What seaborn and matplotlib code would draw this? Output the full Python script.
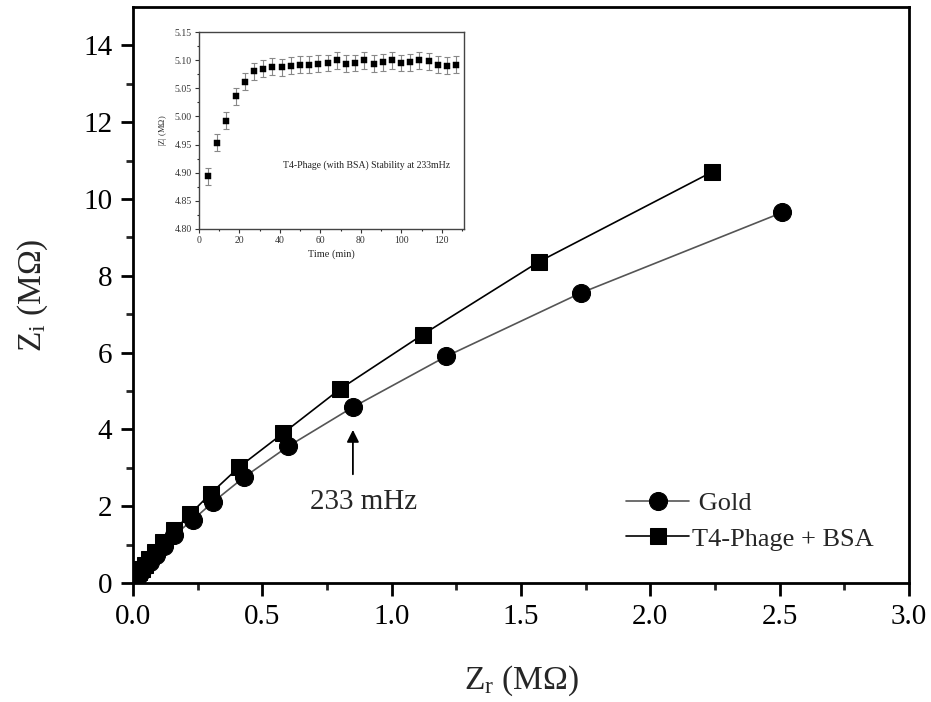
import numpy as np
import pandas as pd
import matplotlib
matplotlib.use('Agg')
import matplotlib.pyplot as plt
import seaborn as sns

# Nyquist data (MOhm)
gold_zr = [2.51, 1.73, 1.21, 0.85, 0.60, 0.43, 0.31, 0.23, 0.16, 0.12, 0.09,
           0.065, 0.047, 0.034, 0.025, 0.018, 0.013]
gold_zi = [9.65, 7.55, 5.90, 4.58, 3.56, 2.76, 2.11, 1.64, 1.25, 0.96, 0.73,
           0.56, 0.43, 0.33, 0.25, 0.19, 0.15]
phage_zr = [2.24, 1.57, 1.12, 0.80, 0.58, 0.41, 0.30, 0.22, 0.16, 0.115, 0.085,
            0.062, 0.045, 0.033, 0.024, 0.017, 0.012]
phage_zi = [10.71, 8.37, 6.47, 5.05, 3.90, 3.02, 2.33, 1.79, 1.38, 1.06, 0.82,
            0.63, 0.48, 0.37, 0.28, 0.21, 0.16]

# inset: stability at 233 mHz
time_min = [4.5, 9.0, 13.6, 18.1, 22.7, 27.2, 31.8, 36.3, 40.9, 45.4, 50.0, 54.5,
            59.0, 63.6, 68.1, 72.7, 77.2, 81.8, 86.3, 90.8, 95.4, 99.9, 104.5,
            109.0, 113.6, 118.1, 122.6, 127.2]
z_abs = [4.894, 4.953, 4.992, 5.036, 5.062, 5.080, 5.085, 5.088, 5.087, 5.090,
         5.092, 5.092, 5.094, 5.095, 5.100, 5.094, 5.095, 5.100, 5.094, 5.096,
         5.100, 5.095, 5.096, 5.100, 5.098, 5.092, 5.090, 5.092]
z_err = [0.015] * len(z_abs)

sns.set_theme(style='ticks')
plt.rcParams['font.family'] = ['Liberation Serif', 'DejaVu Serif']
plt.rcParams['mathtext.fontset'] = 'custom'
plt.rcParams['mathtext.rm'] = 'Liberation Serif'
plt.rcParams['mathtext.it'] = 'Liberation Serif:italic'

df = pd.concat([
    pd.DataFrame({'zr': gold_zr, 'zi': gold_zi, 'sample': 'Gold'}),
    pd.DataFrame({'zr': phage_zr, 'zi': phage_zi, 'sample': 'T4-Phage + BSA'}),
])

fig = plt.figure(figsize=(9.31, 7.02), dpi=100)
ax = fig.add_axes([0.1429, 0.1695, 0.8335, 0.8205])

sns.lineplot(data=df[df['sample'] == 'Gold'], x='zr', y='zi', sort=False, ax=ax,
             color='#555555', lw=1.2, marker='o', markersize=13,
             markerfacecolor='black', markeredgecolor='black', label=' Gold')
sns.lineplot(data=df[df['sample'] == 'T4-Phage + BSA'], x='zr', y='zi', sort=False, ax=ax,
             color='black', lw=1.2, marker='s', markersize=12,
             markerfacecolor='black', markeredgecolor='black', label='T4-Phage + BSA')

ax.set_xlim(0, 3.0)
ax.set_ylim(0, 15)
ax.set_xticks(np.arange(0, 3.01, 0.5))
ax.set_xticks(np.arange(0, 3.01, 0.25), minor=True)
ax.set_yticks(np.arange(0, 15, 2))
ax.set_yticks(np.arange(0, 15, 1), minor=True)
ax.xaxis.set_major_formatter(matplotlib.ticker.FormatStrFormatter('%.1f'))
ax.tick_params(which='major', direction='out', length=9, width=2, labelsize=21,
               colors='black', pad=6)
ax.tick_params(which='minor', direction='out', length=5, width=2)
for s in ax.spines.values():
    s.set_linewidth(2)
    s.set_color('black')
ax.set_xlabel(r'Z$_\mathrm{r}$ (M$\Omega$)', fontsize=24, labelpad=24)
ax.set_ylabel(r'Z$_\mathrm{i}$ (M$\Omega$)', fontsize=24, labelpad=24)

ax.annotate('', xy=(0.85, 4.06), xytext=(0.85, 2.76),
            arrowprops=dict(arrowstyle='-|>', color='black', lw=1.3, mutation_scale=18))
ax.text(0.89, 2.1, '233 mHz', fontsize=21, ha='center', va='center')

ax.legend(loc='lower right', bbox_to_anchor=(0.985, 0.015), frameon=False,
          fontsize=19, handlelength=2.4, handletextpad=0.1, labelspacing=0.45)

# inset
ins = fig.add_axes([0.2137, 0.6738, 0.2847, 0.2806])
ins.errorbar(time_min, z_abs, yerr=z_err, fmt='none', ecolor='#888888',
             elinewidth=0.8, capsize=2, capthick=0.8)
sns.scatterplot(x=time_min, y=z_abs, marker='s', s=16, color='black',
                edgecolor='black', ax=ins, zorder=3)
ins.set_xlim(0, 131)
ins.set_ylim(4.80, 5.15)
ins.set_xticks(np.arange(0, 121, 20))
ins.set_xticks(np.arange(0, 131, 10), minor=True)
ins.set_yticks(np.arange(4.80, 5.151, 0.05))
ins.set_yticks(np.arange(4.80, 5.151, 0.025), minor=True)
ins.yaxis.set_major_formatter(matplotlib.ticker.FormatStrFormatter('%.2f'))
ins.tick_params(which='major', direction='out', length=3, width=0.8, labelsize=7,
                colors='#333333', pad=2)
ins.tick_params(which='minor', direction='out', length=1.5, width=0.8)
for s in ins.spines.values():
    s.set_linewidth(1)
    s.set_color('#444444')
ins.set_xlabel('Time (min)', fontsize=7.5, labelpad=3)
ins.set_ylabel(r'|Z| (M$\Omega$)', fontsize=6, labelpad=4)
ins.text(83, 4.914, 'T4-Phage (with BSA) Stability at 233mHz', fontsize=7,
         ha='center', va='center', color='#222222')

fig.savefig('out.png', dpi=100)
